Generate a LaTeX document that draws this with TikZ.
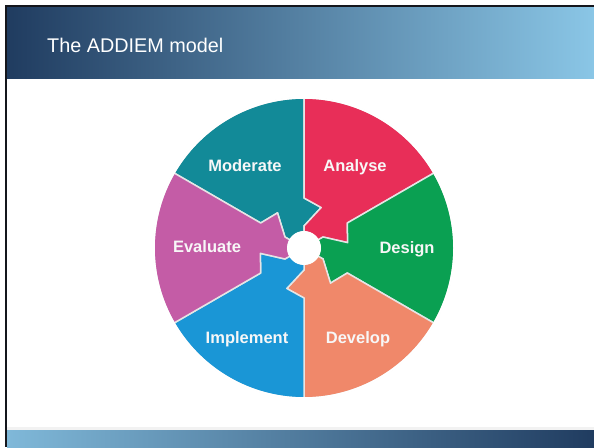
\documentclass[tikz,border=0pt]{standalone}
\usepackage{fontspec}
\setmainfont{Liberation Sans}
\usepackage{tikz}
\definecolor{navy}{RGB}{32,60,96}
\definecolor{sky}{RGB}{138,198,230}
\definecolor{framegray}{RGB}{20,22,28}
\definecolor{moderatecol}{RGB}{18,138,152}
\definecolor{analysecol}{RGB}{232,46,88}
\definecolor{designcol}{RGB}{10,160,82}
\definecolor{developcol}{RGB}{240,136,106}
\definecolor{implementcol}{RGB}{26,150,214}
\definecolor{evaluatecol}{RGB}{196,92,166}
\tikzstyle{part} = [draw=white!90!black, line width=1.5pt, line join=round]
\tikzstyle{partlabel} = [text=white!97!black, font=\bfseries\fontsize{16.5}{18}\selectfont, anchor=base]
\tikzstyle{title} = [text=white, font=\fontsize{19.8}{22}\selectfont, anchor=base west, inner sep=0pt]
% one piece of the wheel: #1 start angle, #2 colour
\newcommand{\wheelpart}[2]{%
  \filldraw[part, fill=#2] (#1:16) -- (#1:22) -- ({#1-23}:44) -- (#1:50) -- (#1:150)
    arc[start angle=#1, end angle={#1+60}, radius=150pt]
    -- ({#1+60}:50) -- ({#1+37}:44) -- ({#1+60}:22) -- ({#1+60}:16)
    arc[start angle={#1+60}, end angle=#1, radius=16pt] -- cycle;}

\begin{document}
\begin{tikzpicture}[x=1pt, y=1pt]
    \useasboundingbox (0,0) rectangle (594,447);
    \fill[white] (0,0) rectangle (594,447);

    % header and footer bars
    \shade[left color=navy, right color=sky] (7,368) rectangle (594,440);
    \fill[white!90!gray] (7,17) rectangle (594,20);
    \shade[left color=sky!90!navy, right color=navy] (7,0) rectangle (594,17);
    \fill[framegray] (5,440) rectangle (594,442);
    \fill[framegray] (5,0) rectangle (7,442);
    \node (title) [title] at (47,394) {The ADDIEM model};

    % the wheel
    \begin{scope}[shift={(304,199)}]
        \wheelpart{90}{moderatecol}
        \wheelpart{30}{analysecol}
        \wheelpart{-30}{designcol}
        \wheelpart{-90}{developcol}
        \wheelpart{-150}{implementcol}
        \wheelpart{150}{evaluatecol}
        \draw[white, line width=2pt] (0,0) circle (150.25);
        \fill[white] (0,0) circle (17);
    \end{scope}

    \node (moderate) [partlabel] at (245,275.5) {Moderate};
    \node (analyse) [partlabel] at (355,275) {Analyse};
    \node (design) [partlabel] at (407,193) {Design};
    \node (evaluate) [partlabel] at (207,194) {Evaluate};
    \node (develop) [partlabel] at (358,103) {Develop};
    \node (implement) [partlabel] at (247,103) {Implement};
\end{tikzpicture}
\end{document}
